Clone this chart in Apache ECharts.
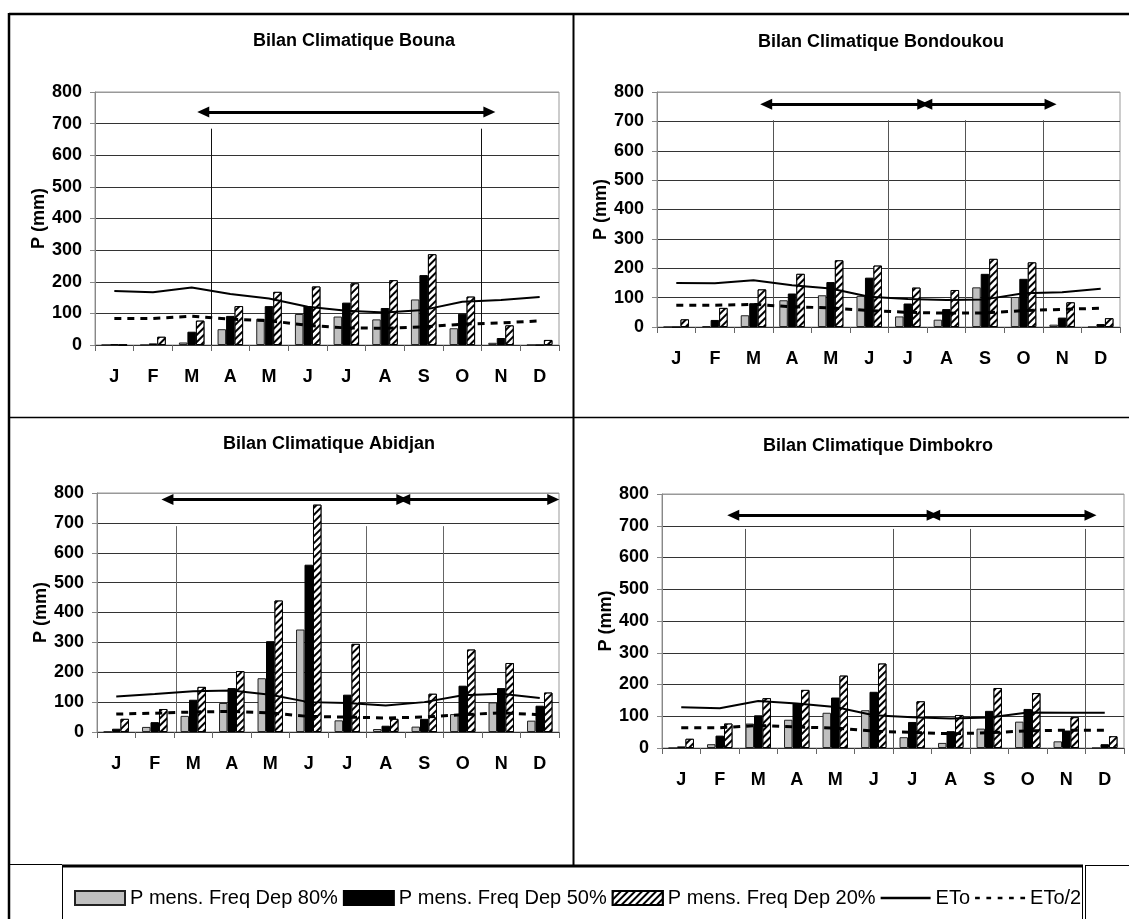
<!DOCTYPE html>
<html><head><meta charset="utf-8">
<script src="https://cdn.jsdelivr.net/npm/echarts@6/dist/echarts.min.js"></script>
<style>html,body{margin:0;padding:0;background:#fff}#c{width:1129px;height:919px}</style>
</head><body><div id="c"></div>
<script>
// ---------- DATA ----------
const months = ['J','F','M','A','M','J','J','A','S','O','N','D'];
const yMin = 0, yMax = 800, yStep = 100;
const seriesNames = ['P mens. Freq Dep 80%','P mens. Freq Dep 50%','P mens. Freq Dep 20%','ETo','ETo/2'];
const titles = ['Bilan Climatique Bouna','Bilan Climatique Bondoukou','Bilan Climatique Abidjan','Bilan Climatique Dimbokro'];

// Bouna
const bounaP80  = [0, 0, 8, 50, 83, 98, 90, 81, 144, 53, 7, 0];
const bounaP50  = [2, 5, 42, 92, 123, 122, 134, 117, 221, 99, 22, 0];
const bounaP20  = [0, 26, 77, 123, 168, 185, 195, 205, 287, 153, 62, 16];
const bounaETo  = [171, 167, 182, 161, 147, 121, 108, 103, 111, 137, 142, 152];
const bounaETo2 = [84, 84, 91, 82, 77, 62, 54, 53, 57, 66, 70, 76];
const bounaDividers = [3, 10];
const bounaDividerTop = 684;
const bounaArrows = [[2.8, 10.2]];
const bounaArrowLevel = 737;

// Bondoukou
const bondoukouP80  = [0, 3, 40, 91, 108, 106, 36, 25, 135, 102, 8, 0];
const bondoukouP50  = [0, 24, 81, 114, 153, 168, 80, 61, 181, 164, 32, 10];
const bondoukouP20  = [26, 65, 128, 181, 227, 209, 134, 126, 232, 220, 84, 30];
const bondoukouETo  = [150, 149, 159, 142, 131, 103, 95, 92, 94, 115, 118, 130];
const bondoukouETo2 = [74, 74, 77, 69, 65, 56, 50, 47, 48, 56, 60, 64];
const bondoukouDividers = [3, 6, 8, 10];
const bondoukouDividerTop = 704;
const bondoukouArrows = [[2.83, 6.9], [6.98, 10.2]];
const bondoukouArrowLevel = 758;

// Abidjan
const abidjanP80  = [1, 17, 54, 97, 180, 343, 39, 10, 18, 60, 99, 38];
const abidjanP50  = [11, 33, 108, 147, 304, 560, 125, 21, 44, 155, 147, 88];
const abidjanP20  = [44, 77, 151, 204, 440, 761, 295, 44, 128, 276, 231, 132];
const abidjanETo  = [119, 127, 136, 139, 125, 100, 97, 89, 100, 123, 128, 114];
const abidjanETo2 = [60, 63, 67, 69, 64, 52, 50, 47, 50, 58, 64, 58];
const abidjanDividers = [2.05, 7, 9];
const abidjanDividerTop = 689;
const abidjanArrows = [[1.83, 7.93], [7.98, 11.85]];
const abidjanArrowLevel = 778;

// Dimbokro
const dimbokroP80  = [0, 12, 77, 89, 111, 119, 34, 16, 61, 83, 21, 0];
const dimbokroP50  = [5, 39, 103, 140, 159, 177, 82, 53, 117, 123, 55, 12];
const dimbokroP20  = [29, 77, 157, 183, 228, 266, 147, 104, 189, 173, 97, 37];
const dimbokroETo  = [128, 125, 148, 140, 129, 103, 97, 93, 96, 112, 111, 111];
const dimbokroETo2 = [64, 64, 71, 66, 63, 53, 49, 45, 48, 54, 56, 56];
const dimbokroDividers = [2.15, 6, 8, 11];
const dimbokroDividerTop = 690;
const dimbokroArrows = [[1.85, 7.03], [7.07, 11.13]];
const dimbokroArrowLevel = 733;

// ---------- LAYOUT ----------
const FONT = 'Liberation Sans, Arial, sans-serif';
const panels = [
  {grid:{left:95, top:92, width:464, height:253}, title:{left:248, top:27},
   p80:bounaP80, p50:bounaP50, p20:bounaP20, eto:bounaETo, eto2:bounaETo2,
   div:bounaDividers, divTop:bounaDividerTop, arr:bounaArrows, arrY:bounaArrowLevel, divColor:'#111'},
  {grid:{left:657, top:92, width:463, height:235}, title:{left:753, top:28},
   p80:bondoukouP80, p50:bondoukouP50, p20:bondoukouP20, eto:bondoukouETo, eto2:bondoukouETo2,
   div:bondoukouDividers, divTop:bondoukouDividerTop, arr:bondoukouArrows, arrY:bondoukouArrowLevel, divColor:'#555'},
  {grid:{left:97, top:493, width:462, height:239}, title:{left:218, top:430},
   p80:abidjanP80, p50:abidjanP50, p20:abidjanP20, eto:abidjanETo, eto2:abidjanETo2,
   div:abidjanDividers, divTop:abidjanDividerTop, arr:abidjanArrows, arrY:abidjanArrowLevel, divColor:'#666'},
  {grid:{left:662, top:494, width:462, height:254}, title:{left:758, top:432},
   p80:dimbokroP80, p50:dimbokroP50, p20:dimbokroP20, eto:dimbokroETo, eto2:dimbokroETo2,
   div:dimbokroDividers, divTop:dimbokroDividerTop, arr:dimbokroArrows, arrY:dimbokroArrowLevel, divColor:'#555'}
];

const hatchDecal = {
  symbol:'rect', symbolSize:1, dashArrayX:[1,0], dashArrayY:[2,3],
  rotation:-Math.PI/4, color:'#000', backgroundColor:'#fff'
};

const legendIcons = [
  'rect', 'rect', 'rect',
  'path://M0,0h46v2.5h-46z',
  'path://M0,0h5v2.5h-5z M12,0h5v2.5h-5z M24,0h5v2.5h-5z M36,0h5v2.5h-5z M48,0h5v2.5h-5z'
];

const option = {
  animation:false,
  backgroundColor:'#fff',
  textStyle:{fontFamily:FONT},
  title:[], grid:[], xAxis:[], yAxis:[], series:[],
  legend:{
    left:69, top:883, itemWidth:50, itemHeight:14, itemGap:5, selectedMode:false,
    data:seriesNames.map((n, k) => ({name:n, icon:legendIcons[k]})),
    textStyle:{fontSize:20, fontFamily:FONT, color:'#000'}
  },
  graphic:{elements:[]}
};

const splitColors = [];
for (let v = yMin; v <= yMax; v += yStep) splitColors.push(v === yMax ? '#999' : '#333');

panels.forEach((p, i) => {
  option.title.push({text:titles[i], left:p.title.left, top:p.title.top,
    textStyle:{fontSize:18, fontWeight:'bold', color:'#000', fontFamily:FONT}});
  option.grid.push(Object.assign({show:true, borderColor:'#999', borderWidth:1, backgroundColor:'transparent'}, p.grid));
  option.xAxis.push({
    type:'category', gridIndex:i, data:months, boundaryGap:true,
    axisLine:{lineStyle:{color:'#333', width:1}},
    axisTick:{show:true, interval:0, length:6, lineStyle:{color:'#666'}},
    axisLabel:{interval:0, fontSize:18, fontWeight:'bold', color:'#000', margin:23, fontFamily:FONT},
    splitLine:{show:false}
  });
  option.xAxis.push({type:'value', gridIndex:i, min:0, max:12, show:false});
  option.yAxis.push({
    type:'value', gridIndex:i, min:yMin, max:yMax, interval:yStep,
    name:'P (mm)', nameLocation:'middle', nameGap:45, nameRotate:90,
    nameTextStyle:{fontSize:18, fontWeight:'bold', color:'#000', fontFamily:FONT},
    axisLine:{show:true, lineStyle:{color:'#888'}},
    axisTick:{show:true, length:5, lineStyle:{color:'#888'}},
    axisLabel:{fontSize:18, fontWeight:'bold', color:'#000', margin:13, fontFamily:FONT},
    splitLine:{show:true, lineStyle:{color:splitColors, width:1}}
  });
  const bx = {xAxisIndex:2*i, yAxisIndex:i};
  option.series.push(Object.assign({type:'bar', name:seriesNames[0], data:p.p80, barWidth:'22%', barGap:'0%',
    itemStyle:{color:'#c0c0c0', borderColor:'#222', borderWidth:1}, emphasis:{disabled:true}}, bx));
  option.series.push(Object.assign({type:'bar', name:seriesNames[1], data:p.p50, barWidth:'22%', barGap:'0%',
    itemStyle:{color:'#000', borderColor:'#000', borderWidth:1}, emphasis:{disabled:true}}, bx));
  option.series.push(Object.assign({type:'bar', name:seriesNames[2], data:p.p20, barWidth:'22%', barGap:'0%',
    itemStyle:{color:'#fff', borderColor:'#000', borderWidth:1, decal:hatchDecal}, emphasis:{disabled:true}}, bx));
  option.series.push(Object.assign({type:'line', name:seriesNames[3], data:p.eto, symbol:'none', showSymbol:false,
    lineStyle:{color:'#000', width:2}, itemStyle:{color:'#000'}, emphasis:{disabled:true}, z:5}, bx));
  option.series.push(Object.assign({type:'line', name:seriesNames[4], data:p.eto2, symbol:'none', showSymbol:false,
    lineStyle:{color:'#000', width:3, type:[7,6]}, itemStyle:{color:'#000'}, emphasis:{disabled:true}, z:5}, bx));

  const ml = [];
  p.div.forEach(x => ml.push([
    {coord:[x, 0], symbol:'none', lineStyle:{color:p.divColor, width:1, type:'solid'}},
    {coord:[x, p.divTop], symbol:'none'}
  ]));
  p.arr.forEach(a => ml.push([
    {coord:[a[0], p.arrY], lineStyle:{color:'#000', width:3, type:'solid'}},
    {coord:[a[1], p.arrY]}
  ]));
  option.series.push({type:'line', name:'annot'+i, xAxisIndex:2*i+1, yAxisIndex:i, data:[], silent:true,
    markLine:{silent:true, animation:false, symbol:['triangle','triangle'], symbolSize:[11,12],
      label:{show:false}, emphasis:{disabled:true},
      lineStyle:{color:'#000', width:3, type:'solid'}, data:ml}, z:6});
});

// frame lines
const L = (x1,y1,x2,y2,w) => ({type:'line', shape:{x1,y1,x2,y2}, style:{stroke:'#000', lineWidth:w}, z:100, silent:true});
option.graphic.elements.push(
  L(9,14,1129,14,2.5),
  L(9,13,9,919,2.5),
  L(573.5,14,573.5,866,2),
  L(9,417.5,1129,417.5,1.5),
  L(9,864.5,62,864.5,1),
  L(1085,865.5,1129,865.5,1),
  L(1085.5,865,1085.5,919,1),
  L(62,866,1083,866,3),
  L(62.5,866,62.5,919,1),
  L(1082.5,866,1082.5,919,1)
);

const chart = echarts.init(document.getElementById('c'), null, {renderer:'canvas'});
chart.setOption(option);
</script></body></html>
